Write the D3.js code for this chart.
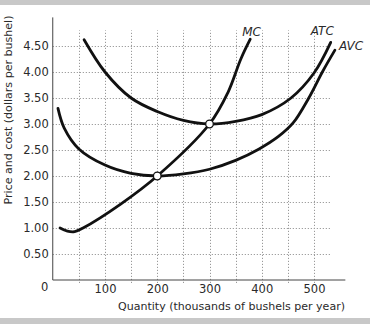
<!DOCTYPE html>
<html>
<head>
<meta charset="utf-8">
<script src="https://cdn.jsdelivr.net/npm/d3@7"></script>
<style>
  html, body { margin: 0; padding: 0; background: #fff; }
  svg { display: block; }
  text { font-family: "DejaVu Sans", sans-serif; fill: #2a2a2a; }
</style>
</head>
<body>
<svg id="chart" width="370" height="324"></svg>
<script>
// ---- data ----
const yTicks = [0.5, 1.0, 1.5, 2.0, 2.5, 3.0, 3.5, 4.0, 4.5];
const xTicks = [100, 200, 300, 400, 500];
const xGrid = [50, 100, 150, 200, 250, 300, 350, 400, 450, 500];

const mc = [[14, 1.0], [28, 0.94], [42, 0.93], [58, 1.0], [130, 1.46], [200, 2.0],
            [300, 3.0], [335, 3.6], [360, 4.25], [378, 4.63]];
const atc = [[60, 4.62], [100, 4.0], [150, 3.5], [200, 3.24], [250, 3.07], [300, 3.0],
             [350, 3.05], [400, 3.18], [456, 3.5], [500, 3.98], [532, 4.57]];
const avc = [[10, 3.3], [22, 2.92], [50, 2.52], [100, 2.21], [150, 2.05], [200, 2.0], [250, 2.04],
             [300, 2.13], [350, 2.3], [395, 2.52], [432, 2.76], [460, 3.02], [490, 3.5], [516, 4.0], [540, 4.42]];
const points = [[200, 2.0], [300, 3.0]];
const curveLabels = [
  { name: "MC", at: [378, 4.63] },
  { name: "ATC", at: [532, 4.57] },
  { name: "AVC", at: [540, 4.42] }
];

// ---- scales ----
const svg = d3.select("#chart");
const x = d3.scaleLinear().domain([0, 500]).range([52.75, 314]);
const y = d3.scaleLinear().domain([0, 4.5]).range([280, 46]);

// frame bands
svg.append("rect").attr("x", 0).attr("y", 0).attr("width", 370).attr("height", 5).attr("fill", "#c8c8c8");
svg.append("rect").attr("x", 0).attr("y", 318).attr("width", 370).attr("height", 6).attr("fill", "#c8c8c8");

// gridlines
const grid = svg.append("g").attr("stroke", "#9a9a9a").attr("stroke-width", 1).attr("stroke-dasharray", "1.2,1.8");
grid.selectAll("line.h").data(yTicks).join("line")
  .attr("x1", x(0)).attr("x2", x(533))
  .attr("y1", d => Math.round(y(d)) + 0.5).attr("y2", d => Math.round(y(d)) + 0.5);
grid.selectAll("line.v").data(xGrid).join("line")
  .attr("y1", y(0) + 3).attr("y2", y(4.8))
  .attr("x1", d => Math.round(x(d)) + 0.5).attr("x2", d => Math.round(x(d)) + 0.5);

// axes lines
svg.append("line").attr("x1", x(0)).attr("x2", x(0)).attr("y1", y(0)).attr("y2", y(5.05))
  .attr("stroke", "#444").attr("stroke-width", 1);
svg.append("line").attr("x1", x(0)).attr("x2", x(560)).attr("y1", y(0)).attr("y2", y(0))
  .attr("stroke", "#444").attr("stroke-width", 1);

// y axis tick labels
const yAxis = d3.axisLeft(y).tickValues(yTicks).tickSize(0).tickPadding(4).tickFormat(d3.format(".2f"));
const gy = svg.append("g").attr("transform", `translate(${x(0)},0)`).call(yAxis);
gy.select(".domain").remove();
gy.selectAll("text").attr("font-size", 11.5).attr("font-family", "DejaVu Sans").attr("fill", "#2a2a2a");

// x axis tick labels
const xAxis = d3.axisBottom(x).tickValues(xTicks).tickSize(0).tickPadding(5);
const gx = svg.append("g").attr("transform", `translate(0,${y(0)})`).call(xAxis);
gx.select(".domain").remove();
gx.selectAll("text").attr("font-size", 11.5).attr("font-family", "DejaVu Sans").attr("fill", "#2a2a2a");

// origin label
svg.append("text").attr("x", x(0) - 8).attr("y", 291).attr("text-anchor", "middle")
  .attr("font-size", 11.5).text("0");

// axis titles
svg.append("text").attr("x", 345).attr("y", 310).attr("text-anchor", "end")
  .attr("font-size", 10.5).attr("textLength", 227).attr("lengthAdjust", "spacingAndGlyphs")
  .attr("fill", "#333")
  .text("Quantity (thousands of bushels per year)");
svg.append("text").attr("transform", "translate(12,110) rotate(-90)").attr("text-anchor", "middle")
  .attr("font-size", 10.5).attr("textLength", 189).attr("lengthAdjust", "spacingAndGlyphs")
  .attr("fill", "#333")
  .text("Price and cost (dollars per bushel)");

// curves
const line = d3.line().x(d => x(d[0])).y(d => y(d[1])).curve(d3.curveCatmullRom.alpha(0.5));
[mc, atc, avc].forEach(data => {
  svg.append("path").datum(data).attr("d", line)
    .attr("fill", "none").attr("stroke", "#111").attr("stroke-width", 2.8).attr("stroke-linecap", "round");
});

// points
svg.selectAll("circle.pt").data(points).join("circle")
  .attr("cx", d => x(d[0])).attr("cy", d => y(d[1])).attr("r", 3.8)
  .attr("fill", "#fff").attr("stroke", "#111").attr("stroke-width", 1.3);

// curve labels
const offs = { MC: [-8, -3], ATC: [-20, -7], AVC: [4, 0] };
svg.selectAll("text.cl").data(curveLabels).join("text")
  .attr("x", d => x(d.at[0]) + offs[d.name][0])
  .attr("y", d => y(d.at[1]) + offs[d.name][1])
  .attr("font-size", 12).attr("font-style", "italic").attr("fill", "#333")
  .text(d => d.name);
</script>
</body>
</html>
